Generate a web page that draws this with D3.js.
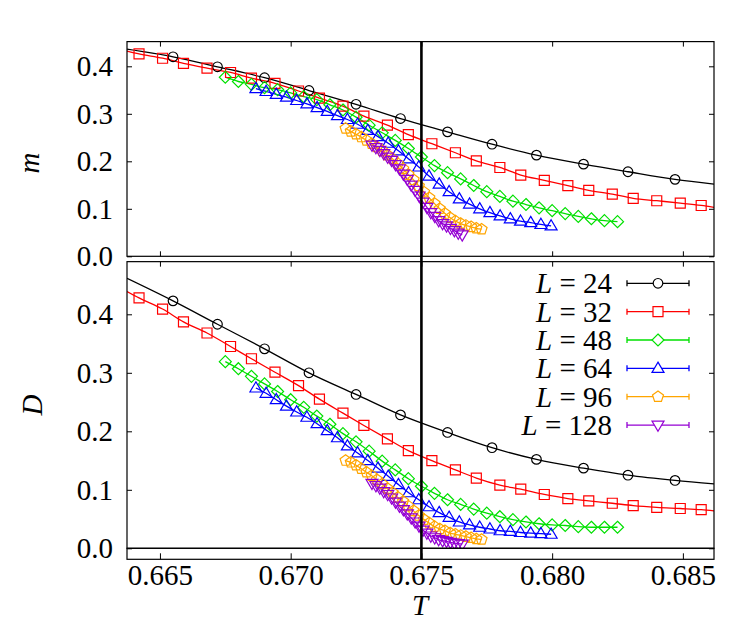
<!DOCTYPE html>
<html><head><meta charset="utf-8">
<script src="https://cdn.jsdelivr.net/npm/d3@7"></script>
<style>body{margin:0;background:#fff}svg{display:block}</style>
</head><body><svg id="c" width="747" height="628"></svg>
<script>
// ---------------- data ----------------
const xTicks = [0.665, 0.670, 0.675, 0.680, 0.685];
const yTicks = [0.0, 0.1, 0.2, 0.3, 0.4];
const Tc = 0.675;
const legendLabels = ["24", "32", "48", "64", "96", "128"];

const T24 = [0.6655,0.6672,0.6690,0.6707,0.6725,0.6742,0.6760,0.6777,0.6794,0.6812,0.6829,0.6847];
const m24 = [0.420,0.399,0.376,0.349,0.320,0.290,0.262,0.236,0.213,0.194,0.178,0.162];
const D24 = [0.423,0.383,0.341,0.300,0.263,0.228,0.198,0.172,0.152,0.137,0.125,0.116];
const m24Fit = [0.436, 0.152];   // fit curve at left / right frame edge
const D24Fit = [0.4615, 0.110];

const T32 = [0.6642,0.6651,0.6659,0.6668,0.6677,0.6685,0.6694,0.6703,0.6711,0.6720,0.6728,0.6737,0.6745,
             0.6754,0.6763,0.6771,0.6780,0.6788,0.6797,0.6806,0.6814,0.6823,0.6831,0.6840,0.6849,0.6857];
const m32 = [0.426,0.417,0.406,0.396,0.387,0.375,0.364,0.348,0.333,0.316,0.295,0.276,0.256,
             0.237,0.218,0.201,0.187,0.171,0.160,0.149,0.139,0.131,0.122,0.117,0.112,0.107];
const D32 = [0.428,0.409,0.387,0.368,0.345,0.324,0.301,0.278,0.255,0.231,0.210,0.187,0.167,
             0.150,0.134,0.120,0.108,0.101,0.092,0.085,0.081,0.077,0.073,0.070,0.068,0.066];
const m32Fit = [0.432, 0.103];
const D32Fit = [0.439, 0.064];

const T48 = [0.6675,0.6680,0.6685,0.6690,0.6695,0.6700,0.6705,0.6710,0.6715,0.6720,0.6725,0.6730,0.6735,0.6740,0.6745,
             0.6750,0.6755,0.6760,0.6765,0.6770,0.6775,0.6780,0.6785,0.6790,0.6795,0.6800,0.6805,0.6810,0.6815,0.6820,0.6825];
const m48 = [0.377,0.368,0.362,0.355,0.351,0.344,0.336,0.330,0.319,0.308,0.293,0.276,0.260,0.244,0.227,
             0.209,0.191,0.176,0.163,0.149,0.136,0.126,0.116,0.109,0.102,0.096,0.090,0.084,0.079,0.075,0.073];
const D48 = [0.319,0.307,0.294,0.281,0.268,0.254,0.241,0.226,0.212,0.196,0.182,0.166,0.149,0.134,0.119,
             0.106,0.094,0.083,0.075,0.067,0.060,0.054,0.049,0.045,0.042,0.040,0.039,0.037,0.036,0.036,0.036];

const T64 = [0.66867,0.66906,0.66945,0.66984,0.67023,0.67062,0.67101,0.67140,0.67179,0.67217,
             0.67256,0.67295,0.67334,0.67373,0.67412,0.67451,0.67490,0.67529,0.67568,0.67606,
             0.67645,0.67684,0.67723,0.67762,0.67801,0.67840,0.67879,0.67918,0.67957,0.67996];
const m64 = [0.353,0.347,0.341,0.335,0.328,0.321,0.313,0.305,0.296,0.288,
             0.278,0.265,0.252,0.238,0.222,0.205,0.188,0.169,0.152,0.136,
             0.121,0.110,0.100,0.092,0.085,0.079,0.074,0.071,0.067,0.064];
const D64 = [0.274,0.265,0.254,0.243,0.233,0.224,0.213,0.201,0.189,0.175,
             0.163,0.150,0.137,0.123,0.109,0.095,0.083,0.071,0.061,0.053,
             0.045,0.040,0.036,0.033,0.030,0.029,0.027,0.026,0.025,0.024];

const T96 = [0.6721,0.6723,0.6725,0.6727,0.6729,0.6731,0.6733,0.6735,0.6737,0.6739,0.6741,0.6743,0.6745,0.6747,
             0.6749,0.6751,0.6753,0.6755,0.6757,0.6759,0.6761,0.6763,0.6765,0.6767,0.6769,0.6771,0.6773];
const m96 = [0.269,0.263,0.257,0.251,0.244,0.237,0.230,0.222,0.213,0.205,0.195,0.184,0.172,0.161,
             0.148,0.135,0.123,0.111,0.100,0.090,0.081,0.074,0.069,0.065,0.062,0.059,0.057];
const D96 = [0.150,0.147,0.142,0.136,0.130,0.124,0.117,0.110,0.102,0.095,0.087,0.080,0.072,0.064,
             0.056,0.049,0.043,0.037,0.033,0.030,0.026,0.024,0.022,0.020,0.018,0.016,0.015];

const T128 = [0.67311,0.67326,0.67341,0.67356,0.67371,0.67386,0.67401,0.67416,0.67431,0.67446,0.67461,0.67476,
              0.67491,0.67506,0.67521,0.67536,0.67551,0.67566,0.67581,0.67596,0.67611,0.67626,0.67641,0.67656];
const m128 = [0.234,0.229,0.223,0.216,0.209,0.202,0.193,0.184,0.173,0.162,0.150,0.139,
              0.127,0.114,0.103,0.092,0.084,0.075,0.069,0.064,0.059,0.054,0.049,0.045];
const D128 = [0.111,0.107,0.103,0.097,0.092,0.086,0.079,0.072,0.066,0.059,0.052,0.045,
              0.038,0.031,0.026,0.021,0.018,0.015,0.013,0.012,0.010,0.009,0.008,0.007];

// ---------------- layout ----------------
const svg = d3.select("#c");
const X0 = 127, X1 = 714;
const x = d3.scaleLinear().domain([0.66374, 0.68619]).range([X0, X1]);
const yTop = d3.scaleLinear().domain([0, 0.452]).range([256.3, 41.6]);
const yBot = d3.scaleLinear().domain([0, 0.49]).range([548.3, 261.65]);
const stripBottom = 559.3;
const FONT = "'Liberation Serif','Times New Roman',Times,serif";
const FS = 29;

const colors = ["#000000", "#ff0000", "#00e000", "#0000ff", "#ffa500", "#9400d3"];

// marker path generators (px)
const shapes = [
  (cx, cy) => `M${cx+4.8},${cy}A4.8,4.8 0 1,1 ${cx-4.8},${cy}A4.8,4.8 0 1,1 ${cx+4.8},${cy}Z`,
  (cx, cy) => `M${cx-5},${cy-5}h10v10h-10Z`,
  (cx, cy) => `M${cx},${cy-6}L${cx+6},${cy}L${cx},${cy+6}L${cx-6},${cy}Z`,
  (cx, cy) => `M${cx},${cy-6.2}L${cx+6},${cy+4}L${cx-6},${cy+4}Z`,
  (cx, cy) => { let p = []; for (let i = 0; i < 5; i++) { const a = -Math.PI/2 + i*2*Math.PI/5; p.push([cx+5.8*Math.cos(a), cy+5.8*Math.sin(a)]); } return "M" + p.map(q => q.join(",")).join("L") + "Z"; },
  (cx, cy) => `M${cx},${cy+6.2}L${cx+6},${cy-4}L${cx-6},${cy-4}Z`
];

const topSeries = [
  {T: T24, v: m24, fit: m24Fit}, {T: T32, v: m32, fit: m32Fit}, {T: T48, v: m48},
  {T: T64, v: m64}, {T: T96, v: m96}, {T: T128, v: m128}
];
const botSeries = [
  {T: T24, v: D24, fit: D24Fit}, {T: T32, v: D32, fit: D32Fit}, {T: T48, v: D48},
  {T: T64, v: D64}, {T: T96, v: D96}, {T: T128, v: D128}
];

function drawPanel(series, y, yTop0, yBot0, clipId) {
  svg.append("clipPath").attr("id", clipId).append("rect")
    .attr("x", X0).attr("y", yTop0).attr("width", X1 - X0).attr("height", yBot0 - yTop0);
  const g = svg.append("g").attr("clip-path", `url(#${clipId})`);
  series.forEach((s, i) => {
    let pts = s.T.map((t, k) => [t, s.v[k]]);
    if (s.fit) pts = [[x.domain()[0], s.fit[0]], ...pts, [x.domain()[1], s.fit[1]]];
    const line = d3.line().x(d => x(d[0])).y(d => y(d[1])).curve(d3.curveMonotoneX);
    g.append("path").attr("d", line(pts)).attr("fill", "none")
      .attr("stroke", colors[i]).attr("stroke-width", 1.3);
  });
  series.forEach((s, i) => {
    g.append("g").selectAll("path").data(s.T.map((t, k) => [t, s.v[k]])).join("path")
      .attr("d", d => shapes[i](x(d[0]), y(d[1])))
      .attr("fill", "none").attr("stroke", colors[i]).attr("stroke-width", 1.2);
  });
}

drawPanel(topSeries, yTop, 41.6, 256.3, "clipTop");
drawPanel(botSeries, yBot, 261.65, 548.3, "clipBot");

// axes (inward ticks)
function yAxes(y) {
  const gl = svg.append("g").attr("transform", `translate(${X0},0)`)
    .call(d3.axisLeft(y).tickValues(yTicks).tickFormat(d3.format(".1f")).tickSizeInner(-5).tickSizeOuter(0).tickPadding(14));
  const gr = svg.append("g").attr("transform", `translate(${X1},0)`)
    .call(d3.axisRight(y).tickValues(yTicks).tickFormat("").tickSizeInner(-5).tickSizeOuter(0));
  [gl, gr].forEach(g => { g.select(".domain").remove(); g.selectAll("line").attr("stroke", "#000"); });
  gl.selectAll("text").attr("font-family", FONT).attr("font-size", FS).attr("fill", "#000");
}
yAxes(yTop); yAxes(yBot);

function xTickMarks(yPos, dir) {
  const g = svg.append("g").attr("transform", `translate(0,${yPos})`)
    .call((dir > 0 ? d3.axisBottom(x) : d3.axisTop(x)).tickValues(xTicks).tickFormat("").tickSizeInner(-5).tickSizeOuter(0));
  g.select(".domain").remove(); g.selectAll("line").attr("stroke", "#000");
}
xTickMarks(41.6, -1); xTickMarks(256.3, 1); xTickMarks(261.65, -1);

const gx = svg.append("g").attr("transform", `translate(0,${stripBottom})`)
  .call(d3.axisBottom(x).tickValues(xTicks).tickFormat(d3.format(".3f")).tickSizeInner(-6).tickSizeOuter(0).tickPadding(5));
gx.select(".domain").remove(); gx.selectAll("line").attr("stroke", "#000");
gx.selectAll("text").attr("font-family", FONT).attr("font-size", FS).attr("fill", "#000");

// frames
const frame = (y0, y1) => svg.append("rect").attr("x", X0).attr("y", y0).attr("width", X1 - X0).attr("height", y1 - y0)
  .attr("fill", "none").attr("stroke", "#000").attr("stroke-width", 1.2);
frame(41.6, 256.3); frame(261.65, 548.3); frame(548.3, stripBottom);

// critical temperature line
svg.append("line").attr("x1", x(Tc)).attr("x2", x(Tc)).attr("y1", 41.6).attr("y2", stripBottom)
  .attr("stroke", "#000").attr("stroke-width", 2.6);

// axis titles
svg.append("text").attr("transform", "translate(39,163) rotate(-90)").attr("text-anchor", "middle")
  .attr("font-family", FONT).attr("font-size", FS).attr("font-style", "italic").text("m");
svg.append("text").attr("transform", "translate(42,405) rotate(-90)").attr("text-anchor", "middle")
  .attr("font-family", FONT).attr("font-size", FS).attr("font-style", "italic").text("D");
svg.append("text").attr("x", 420).attr("y", 615).attr("text-anchor", "middle")
  .attr("font-family", FONT).attr("font-size", FS).attr("font-style", "italic").text("T");

// legend
const lg = svg.append("g");
legendLabels.forEach((lab, i) => {
  const cy = 283.3 + i * 28.35;
  const t = lg.append("text").attr("x", 612).attr("y", cy + 10).attr("text-anchor", "end")
    .attr("font-family", FONT).attr("font-size", FS);
  t.append("tspan").attr("font-style", "italic").text("L");
  t.append("tspan").text(" = " + lab);
  lg.append("line").attr("x1", 627).attr("x2", 689).attr("y1", cy).attr("y2", cy).attr("stroke", colors[i]).attr("stroke-width", 1.3);
  [627, 689].forEach(xx => lg.append("line").attr("x1", xx).attr("x2", xx).attr("y1", cy - 3).attr("y2", cy + 3).attr("stroke", colors[i]).attr("stroke-width", 1.3));
  lg.append("path").attr("d", shapes[i](658, cy)).attr("fill", "#fff").attr("stroke", colors[i]).attr("stroke-width", 1.2);
});
</script></body></html>
